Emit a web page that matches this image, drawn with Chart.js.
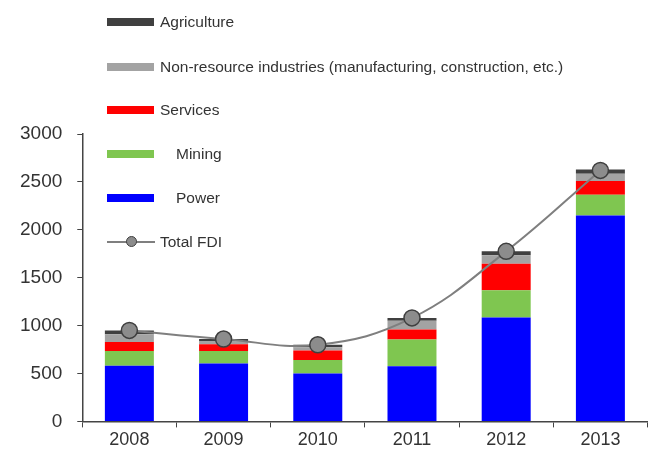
<!DOCTYPE html>
<html>
<head>
<meta charset="utf-8">
<script src="https://cdn.jsdelivr.net/npm/chart.js@4/dist/chart.umd.min.js"></script>
<style>
  html, body { margin: 0; padding: 0; background: #fff; }
  #wrap { position: relative; width: 657px; height: 462px; }
  canvas { position: absolute; left: 0; top: 0; }
  .leg { position: absolute; left: 107px; height: 20px; font-family: "Liberation Sans", Arial, sans-serif; font-size: 15.5px; color: #333; }
  .sw { position: absolute; left: 0; top: 6px; width: 47px; height: 8px; }
  .lt { position: absolute; top: 1px; white-space: nowrap; line-height: 18px; }
  .ln { position: absolute; left: 0; top: 9px; width: 48px; height: 2px; background: #7f7f7f; }
  .dot { position: absolute; left: 19px; top: 4px; width: 9px; height: 9px; border-radius: 50%; background: #8c8c8c; border: 1.5px solid #3f3f3f; }
</style>
</head>
<body>
<div id="wrap">
  <canvas id="c" width="657" height="462"></canvas>
  <div id="legend"></div>
</div>
<script>
const categories = ['2008', '2009', '2010', '2011', '2012', '2013'];
const power       = [580, 605, 500, 575, 1085, 2150];
const mining      = [155, 130, 140, 280, 285, 215];
const services    = [95, 70, 100, 105, 275, 145];
const nonResource = [80, 35, 35, 90, 90, 75];
const agriculture = [40, 20, 25, 30, 40, 45];
const totalFDI    = [950, 860, 800, 1080, 1775, 2620];
const yTicks      = [0, 500, 1000, 1500, 2000, 2500, 3000];

const seriesNames = {
  agriculture: 'Agriculture',
  nonResource: 'Non-resource industries (manufacturing, construction, etc.)',
  services: 'Services',
  mining: 'Mining',
  power: 'Power',
  total: 'Total FDI'
};
const colors = {
  agriculture: '#404040',
  nonResource: '#a3a3a3',
  services: '#ff0000',
  mining: '#7fc650',
  power: '#0000ff',
  line: '#7f7f7f',
  dot: '#8c8c8c',
  dotBorder: '#3f3f3f'
};

const FONT = '"Liberation Sans", Arial, sans-serif';

function barSet(label, data, color) {
  return {
    type: 'bar', label, data, backgroundColor: color, borderWidth: 0,
    stack: 'fdi', order: 1, barPercentage: 0.52, categoryPercentage: 1.0
  };
}

new Chart(document.getElementById('c'), {
  data: {
    labels: categories,
    datasets: [
      {
        type: 'line', label: seriesNames.total, data: totalFDI, stack: 'total', order: 0,
        borderColor: colors.line, borderWidth: 2, tension: 0.4,
        pointRadius: 8, pointBackgroundColor: colors.dot,
        pointBorderColor: colors.dotBorder, pointBorderWidth: 1.5
      },
      barSet(seriesNames.power, power, colors.power),
      barSet(seriesNames.mining, mining, colors.mining),
      barSet(seriesNames.services, services, colors.services),
      barSet(seriesNames.nonResource, nonResource, colors.nonResource),
      barSet(seriesNames.agriculture, agriculture, colors.agriculture)
    ]
  },
  options: {
    responsive: false,
    animation: false,
    layout: { padding: { top: 134, right: 3, bottom: 9, left: 5 } },
    plugins: { legend: { display: false }, tooltip: { enabled: false } },
    scales: {
      x: {
        stacked: true,
        grid: { display: true, offset: true, drawOnChartArea: false, drawTicks: true, tickLength: 6, color: '#444' },
        border: { display: true, color: '#444', width: 1.5 },
        ticks: { color: '#333', font: { family: FONT, size: 18 }, padding: 2 }
      },
      y: {
        stacked: true,
        min: 0, max: 3000,
        afterBuildTicks: (axis) => { axis.ticks = yTicks.map(v => ({ value: v })); },
        grid: { display: true, drawOnChartArea: false, drawTicks: true, tickLength: 5, color: '#444' },
        border: { display: true, color: '#444', width: 1.5 },
        ticks: { color: '#333', font: { family: FONT, size: 19 }, padding: 15, callback: (v) => String(v) }
      }
    }
  }
});

// HTML legend
const legendItems = [
  { key: 'agriculture', y: 12, indent: 0 },
  { key: 'nonResource', y: 57, indent: 0 },
  { key: 'services', y: 100, indent: 0 },
  { key: 'mining', y: 144, indent: 16 },
  { key: 'power', y: 188, indent: 16 },
  { key: 'total', y: 232, indent: 0, line: true }
];
const legendEl = document.getElementById('legend');
legendItems.forEach(it => {
  const d = document.createElement('div');
  d.className = 'leg';
  d.style.top = it.y + 'px';
  if (it.line) {
    d.innerHTML = '<div class="ln"></div><div class="dot"></div>';
  } else {
    d.innerHTML = '<div class="sw" style="background:' + colors[it.key] + '"></div>';
  }
  const t = document.createElement('div');
  t.className = 'lt';
  t.style.left = (53 + it.indent) + 'px';
  t.textContent = seriesNames[it.key];
  d.appendChild(t);
  legendEl.appendChild(d);
});
</script>
</body>
</html>
